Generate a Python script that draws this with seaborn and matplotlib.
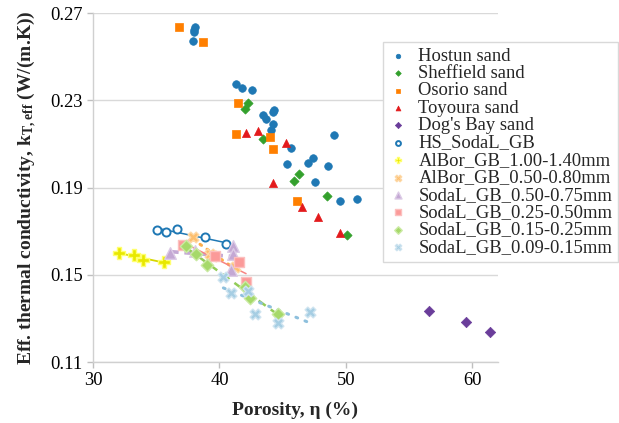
import numpy as np
import pandas as pd
import matplotlib
matplotlib.use("Agg")
import matplotlib.pyplot as plt
import seaborn as sns

# ---------------- data ----------------
hostun_x = [38.03, 37.99, 37.95, 37.93, 41.31, 41.79, 42.60, 43.44, 43.68, 44.23, 44.33,
            44.25, 44.09, 45.65, 49.06, 45.33, 47.01, 47.40, 48.58, 47.56, 49.53, 50.89]
hostun_y = [0.2637, 0.2624, 0.2612, 0.2573, 0.2374, 0.2356, 0.2347, 0.2231, 0.2214, 0.2245, 0.2256,
            0.2192, 0.2165, 0.2079, 0.2139, 0.2006, 0.2011, 0.2035, 0.1997, 0.1923, 0.1838, 0.1848]
sheffield_x = [42.28, 42.02, 43.41, 46.30, 45.91, 48.50, 50.10]
sheffield_y = [0.2286, 0.2260, 0.2122, 0.1963, 0.1928, 0.1861, 0.1682]
osorio_x = [36.77, 38.66, 41.47, 41.34, 43.96, 44.23, 46.09]
osorio_y = [0.2634, 0.2567, 0.2286, 0.2144, 0.2133, 0.2078, 0.1838]
toyoura_x = [42.07, 43.02, 45.29, 44.23, 46.51, 47.80, 49.55]
toyoura_y = [0.2151, 0.2159, 0.2103, 0.1919, 0.1811, 0.1766, 0.1690]
dogsbay_x = [56.56, 59.50, 61.36]
dogsbay_y = [0.1336, 0.1283, 0.1238]
hs_x = [35.10, 35.79, 36.64, 38.83, 40.51]
hs_y = [0.1706, 0.1698, 0.1711, 0.1672, 0.1640]
albor1_x = [32.02, 33.28, 33.96, 35.59]
albor1_y = [0.1600, 0.1590, 0.1567, 0.1559]
albor05_x = [37.91, 39.25, 39.50, 41.26]
albor05_y = [0.1675, 0.1597, 0.1585, 0.1535]
soda050_x = [36.06, 38.09, 41.10, 41.05, 40.92]
soda050_y = [0.1602, 0.1608, 0.1631, 0.1594, 0.1521]
soda025_x = [37.13, 39.61, 41.54, 42.10]
soda025_y = [0.1638, 0.1585, 0.1559, 0.1467]
soda015_x = [37.35, 38.11, 38.98, 41.98, 42.39, 44.61]
soda015_y = [0.1633, 0.1594, 0.1544, 0.1443, 0.1395, 0.1322]
soda009_x = [40.31, 40.89, 42.28, 42.77, 44.62, 47.15]
soda009_y = [0.1488, 0.1416, 0.1425, 0.1319, 0.1281, 0.1330]

series_names = ["Hostun sand", "Sheffield sand", "Osorio sand", "Toyoura sand", "Dog's Bay sand",
                "HS_SodaL_GB", "AlBor_GB_1.00-1.40mm", "AlBor_GB_0.50-0.80mm",
                "SodaL_GB_0.50-0.75mm", "SodaL_GB_0.25-0.50mm", "SodaL_GB_0.15-0.25mm",
                "SodaL_GB_0.09-0.15mm"]
series_x = [hostun_x, sheffield_x, osorio_x, toyoura_x, dogsbay_x, hs_x, albor1_x, albor05_x,
            soda050_x, soda025_x, soda015_x, soda009_x]
series_y = [hostun_y, sheffield_y, osorio_y, toyoura_y, dogsbay_y, hs_y, albor1_y, albor05_y,
            soda050_y, soda025_y, soda015_y, soda009_y]

x_ticks = [30, 40, 50, 60]
y_ticks = [0.11, 0.15, 0.19, 0.23, 0.27]

df = pd.concat([pd.DataFrame({"series": n, "porosity": x, "k": y})
                for n, x, y in zip(series_names, series_x, series_y)], ignore_index=True)

# ---------------- styles ----------------
styles = {
    "Hostun sand":          dict(marker="o", s=30, color="#1f78b4", edgecolor="#1f78b4", linewidth=0.5),
    "Sheffield sand":       dict(marker="D", s=22, color="#33a02c", edgecolor="#33a02c", linewidth=0.5),
    "Osorio sand":          dict(marker="s", s=30, color="#ff7f00", edgecolor="#ff7f00", linewidth=0.5),
    "Toyoura sand":         dict(marker="^", s=34, color="#e31a1c", edgecolor="#e31a1c", linewidth=0.5),
    "Dog's Bay sand":       dict(marker="D", s=28, color="#6a3d9a", edgecolor="#6a3d9a", linewidth=0.5),
    "HS_SodaL_GB":          dict(marker="o", s=34, color="white", edgecolor="#1f78b4", linewidth=1.4),
    "AlBor_GB_1.00-1.40mm": dict(marker="P", s=70, color="#e8e800", edgecolor="#ffff70", linewidth=1.0),
    "AlBor_GB_0.50-0.80mm": dict(marker="X", s=60, color="#fdbf6f", edgecolor="#fdd9a8", linewidth=1.0),
    "SodaL_GB_0.50-0.75mm": dict(marker="^", s=70, color="#c4a8d4", edgecolor="#dccbe6", linewidth=1.0),
    "SodaL_GB_0.25-0.50mm": dict(marker="s", s=55, color="#fb9a99", edgecolor="#fcc0bf", linewidth=1.0),
    "SodaL_GB_0.15-0.25mm": dict(marker="D", s=40, color="#a6d96a", edgecolor="#cbeaa4", linewidth=1.0),
    "SodaL_GB_0.09-0.15mm": dict(marker="X", s=60, color="#a6cee3", edgecolor="#cfe4f0", linewidth=1.0),
}
trend_styles = {
    "HS_SodaL_GB":          dict(color="#1f78b4", lw=1.1, ls="-"),
    "AlBor_GB_1.00-1.40mm": dict(color="#d6d600", lw=1.3, ls="-"),
    "AlBor_GB_0.50-0.80mm": dict(color="#fdae4b", lw=2.2, ls=(0, (0.6, 2.2)), dash_capstyle="round"),
    "SodaL_GB_0.50-0.75mm": dict(color="#c4a8d4", lw=2.6, ls=(0, (2.5, 1.6))),
    "SodaL_GB_0.25-0.50mm": dict(color="#f78483", lw=1.1, ls="-"),
    "SodaL_GB_0.15-0.25mm": dict(color="#92cc58", lw=1.8, ls=(0, (3.5, 2.5))),
    "SodaL_GB_0.09-0.15mm": dict(color="#8ec0dd", lw=2.2, ls=(0, (0.6, 2.6)), dash_capstyle="round"),
}

sns.set_theme(style="white")
plt.rcParams["font.family"] = ["Liberation Serif", "DejaVu Serif"]
plt.rcParams["mathtext.default"] = "regular"

fig = plt.figure(figsize=(6.19, 4.23), dpi=100)
ax = fig.add_axes([0.1502, 0.1442, 0.654, 0.825])

# trendlines
for name, st in trend_styles.items():
    sub = df[df["series"] == name]
    sns.regplot(data=sub, x="porosity", y="k", ax=ax, scatter=False, ci=None,
                truncate=True, line_kws=st)

for name in series_names:
    sub = df[df["series"] == name]
    st = styles[name]
    sns.scatterplot(data=sub, x="porosity", y="k", ax=ax, label=name, zorder=3, **st)

ax.set_xlim(30, 62)
ax.set_ylim(0.11, 0.27)
ax.set_xticks(x_ticks)
ax.set_yticks(y_ticks)
ax.set_yticklabels([f"{v:.2f}" for v in y_ticks])
ax.tick_params(axis="both", labelsize=13.3, colors="#bfbfbf", labelcolor="#000000",
               length=4, width=1, direction="out", left=True, bottom=True)
ax.grid(axis="y", color="#d9d9d9", linewidth=1.0)
ax.grid(axis="x", visible=False)
ax.set_axisbelow(True)
for side in ["top", "right"]:
    ax.spines[side].set_visible(False)
for side in ["left", "bottom"]:
    ax.spines[side].set_color("#d0d0d0")
    ax.spines[side].set_linewidth(1.0)

ax.set_xlabel("Porosity, η (%)", fontsize=14, fontweight="bold", labelpad=9)
ax.set_ylabel(r"Eff. thermal conductivity, k$_{T,eff}$ (W/(m.K))", fontsize=14,
              fontweight="bold", labelpad=8)

handles, labels = ax.get_legend_handles_labels()
leg = ax.legend(handles, labels, loc="upper left",
                bbox_to_anchor=(383 / 619, 1 - 42 / 423), bbox_transform=fig.transFigure,
                fontsize=13.4, frameon=True, fancybox=False, edgecolor="#d9d9d9",
                framealpha=1.0, borderpad=0.3, handlelength=1.0, handletextpad=0.6,
                labelspacing=0.02, borderaxespad=0, markerscale=0.6)
leg.get_frame().set_linewidth(1.0)

fig.savefig("out.png", dpi=100)
